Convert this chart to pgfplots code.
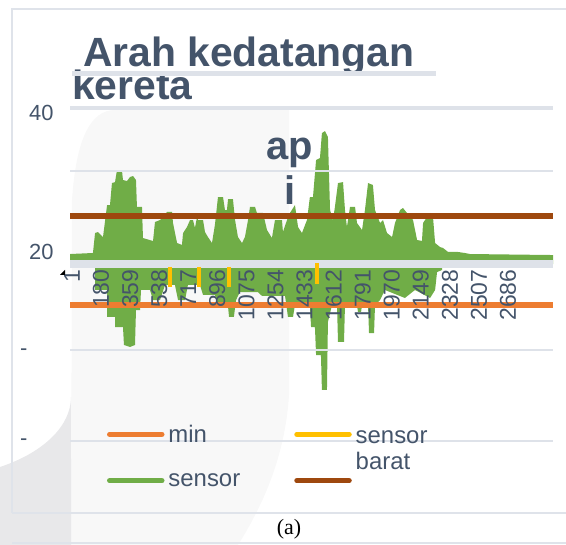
\documentclass[border=0pt]{standalone}
\usepackage{pgfplots}
\pgfplotsset{compat=1.18}
\usepackage{fontspec}
\setmainfont{Liberation Sans}
\newfontfamily\timesfont{Liberation Serif}
\definecolor{slate}{HTML}{44546A}
\definecolor{cgreen}{HTML}{70AD47}
\definecolor{corange}{HTML}{ED7D31}
\definecolor{cbrown}{HTML}{9E480E}
\definecolor{cyel}{HTML}{FFC000}
\definecolor{cgrid}{HTML}{DEE2E9}
\definecolor{cframe}{HTML}{DFE3EA}
\definecolor{wmA}{HTML}{F8F8F8}
\definecolor{wmB}{HTML}{E8E8EA}
\begin{document}
\begin{tikzpicture}
\useasboundingbox (0bp,0bp) rectangle (566bp,545bp);
\clip (0bp,0bp) rectangle (566bp,545bp);
\begin{scope}[x=1bp,y=-1bp,shift={(0bp,545bp)}]
  % watermark
  \fill[wmA] (71,545) -- (72,200) .. controls (76,140) and (90,110) .. (115,110) -- (289,110) -- (289,395) .. controls (285,460) and (260,510) .. (238,545) -- cycle;
  \fill[wmB] (0,467) .. controls (45,452) and (71,425) .. (71,397) -- (71,545) -- (0,545) -- cycle;
  % frame
  \draw[cframe, line width=1.5bp] (12,513) -- (12,9) -- (580,9);
  \draw[cframe, line width=1.5bp] (12,513) -- (580,513);
  \draw[cframe, line width=1.5bp] (12,543) -- (580,543);
  % title
  \node[anchor=base west, inner sep=0, text=slate, font=\bfseries\fontsize{41}{41}\selectfont] at (83,67) {Arah kedatangan};
  \node[anchor=base west, inner sep=0, text=slate, font=\bfseries\fontsize{41}{41}\selectfont] at (72,100) {kereta};
  \draw[cgrid, line width=5bp] (72,73.5) -- (436,73.5);
\end{scope}
\begin{axis}[
  at={(70bp,45bp)}, anchor=south west,
  scale only axis, width=483bp, height=400bp,
  xmin=-11.3, xmax=2963, ymin=-10.26, ymax=41.03,
  axis line style={draw=none},
  axis on top,
  major tick length=0pt,
  clip=false,
  xtick={1,180,359,538,717,896,1075,1254,1433,1612,1791,1970,2149,2328,2507,2686},
  xticklabels={1,180,359,538,717,896,1075,1254,1433,1612,1791,1970,2149,2328,2507,2686},
  xticklabel style={yshift=234bp, rotate=90, anchor=east, font=\fontsize{23}{23}\selectfont, text=slate},
  ytick={39.36,21.54,8.72,-2.82},
  yticklabels={40,20,{-\hspace*{26bp}},{-\hspace*{26bp}}},
  yticklabel style={xshift=-13bp, font=\fontsize{22}{22}\selectfont, text=slate},
  legend image code/.code={\draw[#1, line width=5.5bp, line cap=round] (0bp,0bp) -- (52bp,0bp);},
  legend columns=2,
  legend cell align=left,
  legend style={at={(axis description cs:0.070,0.200)}, anchor=north west, draw=none, fill=none,
    font=\fontsize{24}{27}\selectfont, text=slate, row sep=25bp,
    /tikz/every odd column/.append style={column sep=2bp},
    /tikz/every even column/.append style={column sep=52bp}},
]
% sensor (upper part)
\addplot[fill=cgreen, draw=none, forget plot] coordinates {
(-11.3,20) (-11.3,21.28) (130,21.41) (143,23.97) (161,24.1) (192,23.46) (217,27.56) (235,27.56) (247,30.38) (266,30.5) (278,32.05) (309,31.92) (315,30.77) (340,30.64) (358,31.15) (377,31.28) (395,30.77) (401,27.31) (432,27.31) (438,23.33) (500,22.95) (512,25.38) (543,25.64) (561,26.03) (586,26.67) (617,26.67) (623,25.26) (648,22.69) (678,22.44) (685,23.97) (709,24.74) (728,25.64) (746,25.64) (758,24.62) (771,26.03) (777,25.64) (808,25.64) (820,24.1) (838,23.46) (863,22.69) (881,25.0) (900,28.59) (931,28.59) (943,26.92) (955,26.92) (962,28.33) (992,28.33) (1005,25.64) (1023,23.46) (1048,22.69) (1066,23.46) (1085,25.64) (1097,27.31) (1128,27.31) (1140,26.54) (1177,26.54) (1202,24.36) (1232,23.33) (1251,25.64) (1294,25.64) (1300,24.1) (1325,25.64) (1343,26.54) (1374,27.56) (1393,24.74) (1417,23.97) (1448,25.64) (1466,28.59) (1485,28.59) (1504,33.33) (1528,33.59) (1540,36.79) (1559,37.05) (1577,36.28) (1590,26.92) (1608,25.64) (1620,27.31) (1639,30.38) (1670,30.5) (1682,26.92) (1694,24.74) (1713,27.31) (1744,27.31) (1756,25.26) (1787,24.36) (1805,26.92) (1824,30.38) (1854,30.13) (1867,26.92) (1898,25.26) (1916,25.64) (1941,23.97) (1972,23.46) (1990,25.26) (2021,26.92) (2039,27.18) (2064,26.54) (2101,25.64) (2126,23.08) (2156,22.95) (2163,25.26) (2187,26.03) (2206,26.54) (2224,26.03) (2237,22.69) (2267,22.18) (2286,22.05) (2317,21.54) (2378,21.54) (2421,21.41) (2452,21.28) (2963,21.15) (2963,20)};
% sensor (lower part)
\addplot[fill=cgreen, draw=none, forget plot] coordinates {
(143,20) (143,16.67) (217,16.67) (217,13.21) (266,13.21) (266,11.92) (315,11.92) (321,9.62) (358,9.36) (389,9.62) (395,14.1) (420,14.1) (426,16.67) (481,16.67) (500,15.38) (543,15.38) (574,17.31) (635,17.31) (654,15.38) (697,15.38) (715,17.31) (789,17.31) (808,16.03) (881,16.03) (900,14.74) (961,14.74) (968,13.21) (998,13.21) (1011,15.38) (1035,16.41) (1146,16.41) (1171,15.9) (1313,15.9) (1331,13.21) (1362,13.21) (1374,14.74) (1466,14.74) (1473,11.92) (1497,11.92) (1504,8.33) (1534,8.33) (1540,3.85) (1571,3.85) (1577,12.56) (1602,14.74) (1633,14.74) (1639,10.0) (1676,10.0) (1682,14.74) (1756,14.74) (1762,13.85) (1781,13.85) (1787,14.74) (1824,14.74) (1830,11.15) (1861,11.15) (1867,14.74) (1898,15.38) (1928,16.67) (2051,15.64) (2113,16.67) (2206,15.64) (2237,16.67) (2249,18.97) (2280,19.23) (2280,20)};
% grid lines and band
\draw[cgrid, line width=4bp] (axis cs:-11.3,40) -- (axis cs:2963,40);
\draw[cgrid, line width=1.8bp] (axis cs:-11.3,31.92) -- (axis cs:2963,31.92);
\draw[cgrid, line width=1.5bp] (axis cs:-11.3,8.97) -- (axis cs:2963,8.97);
\draw[cgrid, line width=1.5bp] (axis cs:-11.3,-2.69) -- (axis cs:2963,-2.69);
\draw[cgrid, line width=8bp] (axis cs:-11.3,20) -- (axis cs:2963,20);
% brown and min lines
\addplot[cbrown, line width=6bp, forget plot] coordinates {(-11.3,26.15) (2963,26.15)};
\addplot[corange, line width=6bp, forget plot] coordinates {(-11.3,14.74) (2963,14.74)};
% sensor barat
\addplot[cyel, line width=3.3bp, forget plot] coordinates {(604,19.62) (604,17.05)};
\addplot[cyel, line width=3.3bp, forget plot] coordinates {(783,19.62) (783,17.05)};
\addplot[cyel, line width=3.3bp, forget plot] coordinates {(968,19.62) (968,17.05)};
\addplot[cyel, line width=3.3bp, forget plot] coordinates {(1510,20.13) (1510,17.44)};
% legend
\addlegendimage{corange}
\addlegendentry{min}
\addlegendimage{cyel}
\addlegendentry{\begin{tabular}[t]{@{}l@{}}sensor\\barat\end{tabular}}
\addlegendimage{cgreen}
\addlegendentry{sensor}
\addlegendimage{cbrown}
\addlegendentry{}
\end{axis}
\begin{scope}[x=1bp,y=-1bp,shift={(0bp,545bp)}]
  \node[anchor=base, inner sep=0, text=slate, font=\bfseries\fontsize{40}{40}\selectfont] at (290,160) {ap};
  \node[anchor=base, inner sep=0, text=slate, font=\bfseries\fontsize{40}{40}\selectfont] at (290,205) {i};
  \fill[black] (60,275) -- (65,270) -- (65,275) -- cycle;
  \node[font=\timesfont\fontsize{22}{22}\selectfont] at (289,529) {(a)};
\end{scope}
\end{tikzpicture}
\end{document}
